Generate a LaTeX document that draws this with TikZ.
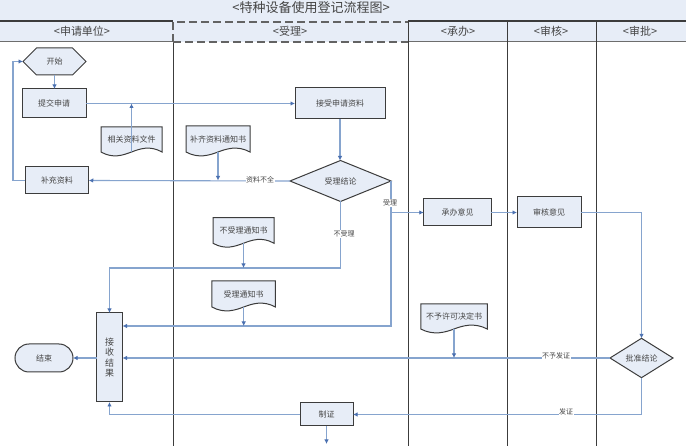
\documentclass[tikz,border=0pt]{standalone}
\usepackage{fontspec}
\setmainfont{Noto Sans CJK SC}
\usepackage{tikz}
\usetikzlibrary{shapes, arrows.meta, positioning, calc, fit, backgrounds}
\definecolor{bandfill}{HTML}{E7EDF7}
\definecolor{flowblue}{HTML}{86A4CE}
\definecolor{tipblue}{HTML}{4A70B0}
\definecolor{edgegray}{HTML}{3C3C3C}
\definecolor{labelgray}{HTML}{454545}
\newcommand{\fsz}[1]{\fontsize{#1}{#1}\selectfont}
\newcommand{\docoutline}[1]{
\begin{pgfonlayer}{background}
\draw[edgegray, line width=1pt, fill=bandfill] (#1.south west) -- (#1.north west) -- (#1.north east) -- (#1.south east)
  .. controls ($(#1.south)!0.6!(#1.south east)+(0,-7)$) and ($(#1.south)+(8,-3)$) .. (#1.south)
  .. controls ($(#1.south)+(-8,3)$) and ($(#1.south)!0.6!(#1.south west)+(0,7)$) .. (#1.south west) -- cycle;
\end{pgfonlayer}
}
\tikzset{
  flowbox/.style={draw=edgegray, line width=1pt, fill=bandfill, inner sep=0pt, outer sep=0pt, text=labelgray, font=\fsz{8}},
  docbox/.style={inner sep=0pt, outer sep=0pt, text=labelgray, font=\fsz{8}},
  decision/.style={flowbox, diamond},
  flowline/.style={draw=flowblue, line width=1.1pt},
  flowarrow/.style={flowline, -{Latex[length=4.5pt,width=4.5pt,color=tipblue]}},
  branchlabel/.style={fill=white, inner sep=0.5pt, text=labelgray, font=\fsz{7}},
  lanehead/.style={text=labelgray, font=\fsz{11}},
  laneline/.style={draw=edgegray, line width=1pt},
}

\begin{document}
\begin{tikzpicture}[x=1pt, y=-1pt]
\useasboundingbox (0,0) rectangle (686,446);
\begin{pgfonlayer}{background}
\fill[white] (0,0) rectangle (686,446);
\end{pgfonlayer}
\fill[bandfill] (0,0) rectangle (686,42);
\node[font=\fsz{13}, text=labelgray] (title) at (311,8) {<特种设备使用登记流程图>};
\node[lanehead] (headapply) at (82,31) {<申请单位>};
\node[lanehead] (headaccept) at (290,31) {<受理>};
\node[lanehead] (headhandle) at (458,31) {<承办>};
\node[lanehead] (headreview) at (551,31) {<审核>};
\node[lanehead] (headapprove) at (640,31) {<审批>};
\draw[edgegray, line width=1.1pt] (0,21) -- (173,21);
\draw[edgegray, line width=1.1pt] (408,21) -- (686,21);
\draw[edgegray!75, line width=1pt] (0,42) -- (173,42);
\draw[edgegray!75, line width=1pt] (408,42) -- (686,42);
\draw[laneline] (173,42) -- (173,446);
\draw[laneline] (408.5,21) -- (408.5,446);
\draw[laneline] (507.5,21) -- (507.5,446);
\draw[laneline, line width=1.4pt] (596.5,21) -- (596.5,446);
\draw[edgegray!80, line width=1.2pt, dash pattern=on 8pt off 4pt] (173,42) -- (173,22) -- (408,22);
\draw[edgegray!80, line width=1.2pt, dash pattern=on 8pt off 4pt] (173,42) -- (408,42);

\node[flowbox, signal, signal to=west and east, signal pointer angle=90, minimum width=63pt, minimum height=27pt] (start) at (54.5,61.5) {开始};
\node[flowbox, minimum width=64pt, minimum height=29pt] (submit) at (54,103.5) {提交申请};
\node[flowbox, minimum width=63.5pt, minimum height=27pt] (supply) at (57,180.5) {补充资料};
\node[flowbox, minimum width=90pt, minimum height=31pt] (receive) at (340,103.5) {接受申请资料};
\node[decision, minimum width=101pt, minimum height=41pt] (acceptres) at (340.5,181) {受理结论};
\node[flowbox, minimum width=67.5pt, minimum height=27pt] (handle) at (457.5,212.5) {承办意见};
\node[flowbox, minimum width=64pt, minimum height=31pt] (review) at (549,212.5) {审核意见};
\node[decision, minimum width=63pt, minimum height=38pt] (approveres) at (641.5,358) {批准结论};
\node[flowbox, minimum width=26pt, minimum height=89pt, align=center, font=\fsz{9}] (result) at (109.5,357.5) {接\\[1.5pt]收\\[1.5pt]结\\[1.5pt]果};
\node[flowbox, rounded rectangle, minimum width=58pt, minimum height=28pt] (finish) at (44,358) {结束};
\node[flowbox, minimum width=53pt, minimum height=23pt] (license) at (326.5,414.5) {制证};

\node[docbox, minimum width=61pt, minimum height=25pt] (filesdoc) at (131.5,139.5) {相关资料文件};
\node[docbox, minimum width=64pt, minimum height=26pt] (supplydoc) at (218,139) {补齐资料通知书};
\node[docbox, minimum width=61pt, minimum height=25.5pt] (rejectdoc) at (243.5,230.5) {不受理通知书};
\node[docbox, minimum width=63.5pt, minimum height=26pt] (acceptdoc) at (243.7,294) {受理通知书};
\node[docbox, minimum width=66.5pt, minimum height=25pt] (denydoc) at (454,316.5) {不予许可决定书};
\docoutline{filesdoc}
\docoutline{supplydoc}
\docoutline{rejectdoc}
\docoutline{acceptdoc}
\docoutline{denydoc}

\coordinate (filesjoin) at (filesdoc.south |- submit.east);
\coordinate (supplyjoin) at (supplydoc.south |- supply.east);
\coordinate (looptop) at (13,61.5);
\coordinate (loopbottom) at (13,180.5);
\coordinate (acceptdrop) at (391,326);
\coordinate (acceptbranch) at (391,212.5);
\coordinate (rejectdrop) at (340.5,268);
\coordinate (rejectjoin) at (rejectdoc.south |- rejectdrop);
\coordinate (noticejoin) at (acceptdoc.south |- acceptdrop);
\coordinate (denyjoin) at (denydoc.south |- approveres.west);
\coordinate (reviewturn) at (approveres.north |- review.east);
\coordinate (licenseturn) at (approveres.south |- license.east);
\coordinate (licensefeed) at (result.south |- license.west);
\coordinate (licenseout) at (326.5,444);

\draw[flowarrow] (start.south) -- (start.south |- submit.north);
\draw[flowarrow] (submit.east) -- (receive.west);
\draw[flowarrow] (filesdoc.south) -- (filesjoin);
\draw[flowarrow] (supply.west) -- (loopbottom) -- (looptop) -- (start.west);
\draw[flowarrow] (acceptres.west) -- (supply.east);
\draw[flowarrow] (supplydoc.south) -- (supplyjoin);
\draw[flowarrow] (receive.south) -- (receive.south |- acceptres.north);
\draw[flowarrow] (acceptres.east) -- (acceptdrop) -- (acceptdrop -| result.east);
\draw[flowarrow] (acceptbranch) -- (handle.west);
\draw[flowarrow] (acceptres.south) -- (rejectdrop) -- (rejectdrop -| result.north) -- (result.north);
\draw[flowarrow] (rejectdoc.south) -- (rejectjoin);
\draw[flowarrow] (acceptdoc.south) -- (noticejoin);
\draw[flowarrow] (handle.east) -- (review.west);
\draw[flowarrow] (review.east) -- (reviewturn) -- (approveres.north);
\draw[flowarrow] (approveres.west) -- (approveres.west -| result.east);
\draw[flowarrow] (denydoc.south) -- (denyjoin);
\draw[flowarrow] (approveres.south) -- (licenseturn) -- (license.east);
\draw[flowarrow] (license.west) -- (licensefeed) -- (result.south);
\draw[flowarrow] (result.west |- finish.east) -- (finish.east);
\draw[flowarrow] (license.south) -- (licenseout);

\node[branchlabel] (lacklabel) at (260,180) {资料不全};
\node[branchlabel] (acceptlabel) at (390,203) {受理};
\node[branchlabel] (rejectlabel) at (344,234) {不受理};
\node[branchlabel] (denylabel) at (556,356) {不予发证};
\node[branchlabel] (issuelabel) at (566,412) {发证};
\end{tikzpicture}
\end{document}
